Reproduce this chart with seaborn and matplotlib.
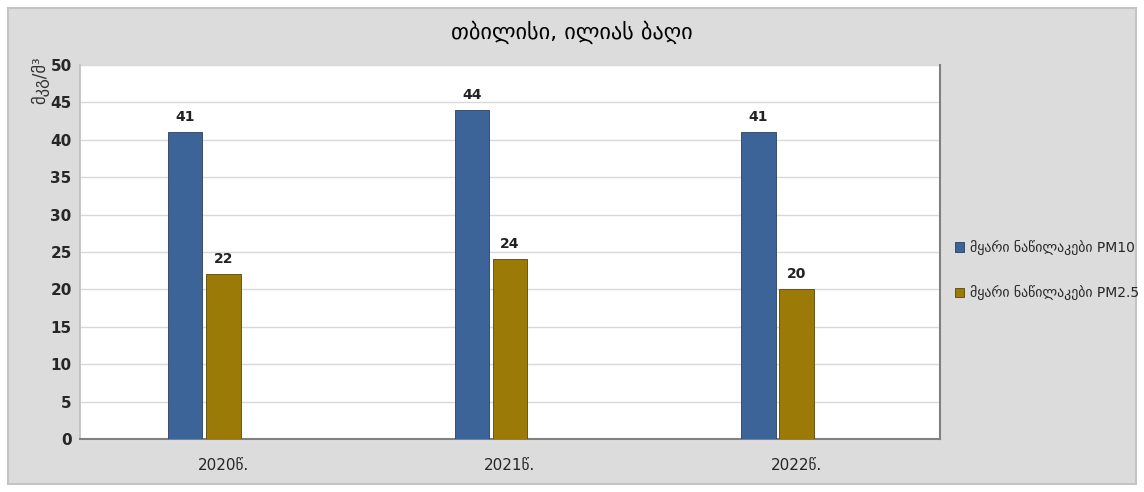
import matplotlib
matplotlib.use("Agg")
import matplotlib.pyplot as plt
import seaborn as sns
import pandas as pd
from matplotlib.patches import Rectangle

years = ["2020წ.", "2021წ.", "2022წ."]
pm10 = [41, 44, 41]
pm25 = [22, 24, 20]
series_names = ["მყარი ნაწილაკები PM10", "მყარი ნაწილაკები PM2.5"]
title = "თბილისი, ილიას ბაღი"
ylabel = "მკგ/მ³"
yticks = [0, 5, 10, 15, 20, 25, 30, 35, 40, 45, 50]

df = pd.DataFrame({
    "year": years * 2,
    "value": pm10 + pm25,
    "series": [series_names[0]] * 3 + [series_names[1]] * 3,
})

sns.set_theme(style="white")
plt.rcParams["font.family"] = ["DejaVu Sans"]

W, H = 1144, 492
fig = plt.figure(figsize=(W / 100, H / 100), dpi=100, facecolor="white")

# gray chart area with a thin border, kept behind the plot
fig.patches.append(Rectangle((8 / W, 8 / H), 1128 / W, 476 / H, transform=fig.transFigure,
                             facecolor="#dcdcdc", edgecolor="#c4c4c4", linewidth=1.5, zorder=-10))

ax = fig.add_axes([80 / W, 1 - 439 / H, 860 / W, 374 / H])
ax.set_facecolor("white")

# a third, empty slot in each group keeps the layout of a three-series chart
hue_order = series_names + ["(empty)"]
palette = {series_names[0]: "#3c6499", series_names[1]: "#9c7a08", "(empty)": "white"}
sns.barplot(data=df, x="year", y="value", hue="series", hue_order=hue_order, palette=palette,
            ax=ax, width=0.40, gap=0.1, edgecolor="#2a3f5c", linewidth=0.6, saturation=1,
            zorder=3)

for patch in ax.patches:
    if patch.get_facecolor()[0] > 0.5:
        patch.set_edgecolor("#5a4605")

ax.set_ylim(0, 50)
ax.set_yticks(yticks)
ax.yaxis.grid(True, color="#d9d9d9", linewidth=1, zorder=0)
ax.set_axisbelow(True)
for lbl in ax.get_yticklabels():
    lbl.set_fontweight("bold")
    lbl.set_fontsize(11)
ax.tick_params(axis="y", length=0, pad=6)
ax.tick_params(axis="x", length=0, pad=14, labelsize=11)

ax.spines["top"].set_visible(False)
ax.spines["left"].set_color("#bfbfbf")
ax.spines["bottom"].set_color("#808080")
ax.spines["right"].set_color("#808080")
ax.spines["bottom"].set_linewidth(1.5)
ax.spines["right"].set_linewidth(1.5)

for cont in ax.containers:
    if len(cont) and cont.datavalues.size:
        ax.bar_label(cont, fmt="%d", padding=6, fontsize=10, fontweight="bold", color="#222222")

ax.set_xlabel("")
ax.set_ylabel("")
fig.text(40 / W, 1 - 80 / H, ylabel, rotation=90, ha="center", va="center", fontsize=12, color="#333333")
fig.text(572 / W, 1 - 32 / H, title, ha="center", va="center", fontsize=16, color="black")

handles, labels = ax.get_legend_handles_labels()
keep = [i for i, l in enumerate(labels) if l in series_names]
ax.legend([handles[i] for i in keep], [labels[i] for i in keep], loc="center left",
          bbox_to_anchor=(942 / W, 1 - 270 / H), bbox_transform=fig.transFigure, frameon=False,
          fontsize=10, handlelength=0.7, handleheight=0.7, handletextpad=0.4, labelspacing=2.2)

fig.savefig("out.png", dpi=100, facecolor="white")
